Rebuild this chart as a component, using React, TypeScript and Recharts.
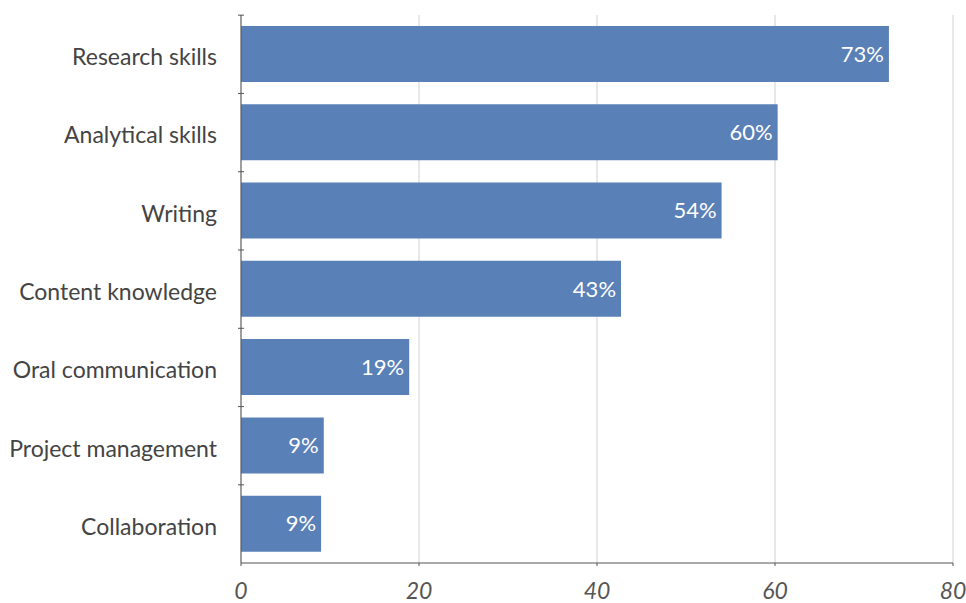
import React from "react";
import { BarChart, Bar, XAxis, YAxis, CartesianGrid, LabelList } from "recharts";

const categories = [
  "Research skills",
  "Analytical skills",
  "Writing",
  "Content knowledge",
  "Oral communication",
  "Project management",
  "Collaboration",
];
const values = [72.8, 60.3, 54.0, 42.7, 18.9, 9.3, 9.0];
const valueLabels = ["73%", "60%", "54%", "43%", "19%", "9%", "9%"];
const xTicks = [0, 20, 40, 60, 80];

const data = categories.map((c, i) => ({ name: c, value: values[i], label: valueLabels[i] }));

const FONT = "Lato, 'Open Sans', sans-serif";

const YTick = (props: any) => {
  const { x, y, payload } = props;
  return (
    <g>
      <line x1={x + 21} x2={x + 27} y1={y - 39} y2={y - 39} stroke="#555" strokeWidth={1} />
      <text x={x} y={y + 2} textAnchor="end" dominantBaseline="central" fill="#444" fontSize={23} fontFamily={FONT}>
        {payload.value}
      </text>
    </g>
  );
};

export default function App() {
  return (
    <div style={{ position: "absolute", left: 0, top: 0, width: 966, height: 603, background: "#fff" }}>
      <BarChart
        width={966}
        height={603}
        data={data}
        layout="vertical"
        margin={{ top: 15, right: 13, bottom: 0, left: 0 }}
        barCategoryGap="14%"
      >
        <CartesianGrid horizontal={false} vertical={true} stroke="#d0d0d0" strokeWidth={1} />
        <XAxis
          type="number"
          domain={[0, 80]}
          ticks={xTicks}
          height={40}
          axisLine={{ stroke: "#555", strokeWidth: 1 }}
          tickLine={{ stroke: "#555" }}
          tickSize={3}
          tickMargin={17}
          tick={{ fill: "#555", fontSize: 23, fontStyle: "italic", fontFamily: FONT }}
        />
        <YAxis
          type="category"
          dataKey="name"
          width={241}
          axisLine={{ stroke: "#555", strokeWidth: 1 }}
          tickLine={false}
          tickSize={0}
          tickMargin={24}
          tick={<YTick />}
        />
        <Bar dataKey="value" fill="#5A80B8" isAnimationActive={false}>
          <LabelList
            dataKey="label"
            position="insideRight"
            offset={5}
            fill="#ffffff"
            fontSize={22}
            fontFamily={FONT}
          />
        </Bar>
      </BarChart>
    </div>
  );
}
